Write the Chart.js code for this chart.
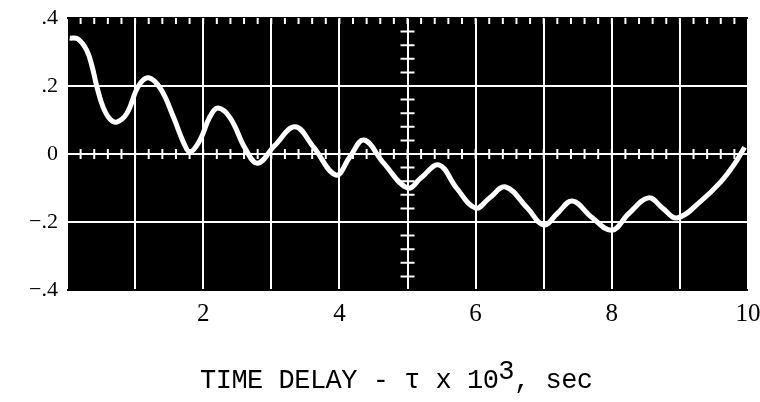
<!DOCTYPE html>
<html>
<head>
<meta charset="utf-8">
<script src="https://cdn.jsdelivr.net/npm/chart.js@4"></script>
<style>
  html, body { margin: 0; padding: 0; background: #fff; }
  #wrap { position: relative; width: 760px; height: 402px; }
  #axisTitle {
    position: absolute; left: 200px; top: 366px;
    font-family: "Liberation Mono", monospace; font-size: 27px; color: #000;
    white-space: pre; letter-spacing: -0.5px;
  }
  #axisTitle sup { font-size: 27px; position: relative; top: -9px; vertical-align: baseline; }
</style>
</head>
<body>
<div id="wrap">
  <canvas id="chart" width="760" height="402"></canvas>
  <div id="axisTitle">TIME DELAY - τ x 10<sup>3</sup>, sec</div>
</div>
<script>
// time delay (x 10^3 sec) and correlation
const tau = [0.04, 0.16, 0.29, 0.37, 0.44, 0.53, 0.63, 0.73, 0.88, 1.05, 1.2, 1.38, 1.56, 1.72, 1.81, 1.95, 2.1, 2.22,
  2.4, 2.62, 2.8, 3.05, 3.35, 3.62, 3.95, 4.15, 4.36, 4.65, 5.0, 5.2, 5.46, 5.72, 6.0, 6.2, 6.44,
  6.76, 7.0, 7.2, 7.42, 7.7, 8.0, 8.25, 8.54, 8.75, 8.96, 9.3, 9.6, 9.8, 9.95];
const response = [0.341, 0.338, 0.305, 0.256, 0.197, 0.138, 0.103, 0.094, 0.12, 0.2, 0.224, 0.19, 0.11, 0.03, 0.006, 0.04, 0.11, 0.135,
  0.105, 0.015, -0.027, 0.025, 0.08, 0.02, -0.062, -0.01, 0.041, -0.027, -0.1, -0.07, -0.032, -0.1, -0.159, -0.13, -0.097,
  -0.159, -0.209, -0.175, -0.138, -0.185, -0.224, -0.175, -0.129, -0.16, -0.188, -0.14, -0.082, -0.03, 0.02];

const xLabelValues = [2, 4, 6, 8, 10];
const yTickValues = [0.4, 0.2, 0, -0.2, -0.4];
const yTickLabels = ['.4', '.2', '0', '−.2', '−.4'];

// black plot field plus the small scale marks along the top edge, zero line and x = 5
const plotField = {
  id: 'plotField',
  beforeDraw(chart) {
    const { ctx, chartArea: a } = chart;
    ctx.save();
    ctx.fillStyle = '#000';
    ctx.fillRect(a.left, a.top, a.right - a.left, a.bottom - a.top);
    ctx.restore();
  },
  beforeDatasetsDraw(chart) {
    const { ctx, chartArea: a, scales: { x, y } } = chart;
    ctx.save();
    ctx.strokeStyle = '#fff';
    ctx.lineWidth = 2;
    ctx.beginPath();
    const y0 = y.getPixelForValue(0);
    for (let i = 1; i < 50; i++) {
      const px = x.getPixelForValue(i * 0.2);
      ctx.moveTo(px, a.top);
      ctx.lineTo(px, a.top + 6);
      ctx.moveTo(px, y0 - 5);
      ctx.lineTo(px, y0 + 5);
    }
    const x5 = x.getPixelForValue(5);
    for (let i = -9; i <= 9; i++) {
      const py = y.getPixelForValue(i * 0.04);
      ctx.moveTo(x5 - 7, py);
      ctx.lineTo(x5 + 7, py);
    }
    ctx.stroke();
    ctx.restore();
  }
};

new Chart(document.getElementById('chart'), {
  type: 'line',
  data: {
    datasets: [{
      data: tau.map((t, i) => ({ x: t, y: response[i] })),
      borderColor: '#fff',
      borderWidth: 5,
      pointRadius: 0,
      tension: 0.4,
      fill: false
    }]
  },
  options: {
    responsive: false,
    animation: false,
    layout: { padding: { top: 18, right: 0, bottom: 0, left: 0 } },
    plugins: { legend: { display: false }, tooltip: { enabled: false } },
    scales: {
      x: {
        type: 'linear', min: 0, max: 10,
        afterFit(scale) { scale.height = 112; scale.paddingRight = 12; scale.paddingLeft = 0; },
        grid: { color: '#fff', lineWidth: 2, drawTicks: false },
        border: { display: false },
        ticks: {
          stepSize: 1, padding: 9, color: '#000', maxRotation: 0,
          font: { family: 'Liberation Serif', size: 25 },
          callback: (v) => xLabelValues.includes(v) ? String(v) : ''
        }
      },
      y: {
        type: 'linear', min: -0.4, max: 0.4,
        afterFit(scale) { scale.width = 67; scale.paddingTop = 0; scale.paddingBottom = 0; },
        grid: { color: (c) => (c.tick && Math.abs(c.tick.value) > 0.3 ? '#000' : '#fff'), lineWidth: 2, drawTicks: false },
        border: { display: false },
        ticks: {
          stepSize: 0.2, padding: 9, color: '#000',
          font: { family: 'Liberation Serif', size: 22 },
          callback: (v) => {
            const k = yTickValues.findIndex((t) => Math.abs(t - v) < 1e-6);
            return k >= 0 ? yTickLabels[k] : '';
          }
        }
      }
    }
  },
  plugins: [plotField]
});
</script>
</body>
</html>
